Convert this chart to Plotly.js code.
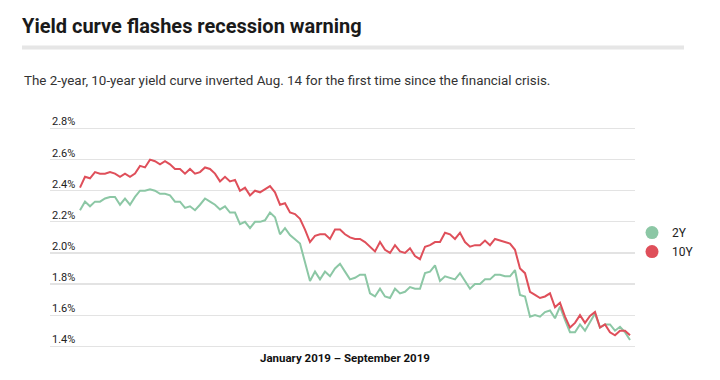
<!DOCTYPE html>
<html>
<head>
<meta charset="utf-8">
<script src="https://cdn.plot.ly/plotly-3.0.1.min.js"></script>
<style>html,body{margin:0;padding:0;background:#fff;}#chart{width:720px;height:380px;}</style>
</head>
<body>
<div id="chart"></div>
<script>
// Trading-day index (late March 2019 → early September 2019)
const dayIndex = Array.from({length: 111}, (_, i) => i);

// 2-year Treasury yield, %
const y2 = [
  2.275, 2.33, 2.30, 2.33, 2.33, 2.35, 2.36, 2.36, 2.31, 2.35,
  2.31, 2.36, 2.40, 2.40, 2.41, 2.40, 2.38, 2.38, 2.37, 2.33,
  2.33, 2.29, 2.30, 2.275, 2.31, 2.35, 2.33, 2.31, 2.28, 2.30,
  2.26, 2.26, 2.185, 2.20, 2.16, 2.20, 2.20, 2.21, 2.26, 2.23,
  2.12, 2.16, 2.115, 2.09, 2.06, 1.94, 1.82, 1.88, 1.83, 1.88,
  1.85, 1.90, 1.93, 1.88, 1.83, 1.84, 1.86, 1.86, 1.74, 1.72,
  1.77, 1.72, 1.71, 1.77, 1.74, 1.75, 1.78, 1.77, 1.77, 1.87,
  1.88, 1.92, 1.82, 1.85, 1.84, 1.83, 1.87, 1.82, 1.77, 1.80,
  1.80, 1.83, 1.83, 1.86, 1.86, 1.85, 1.85, 1.89, 1.73, 1.72,
  1.59, 1.60, 1.59, 1.62, 1.63, 1.58, 1.655, 1.57, 1.49, 1.49,
  1.54, 1.50, 1.56, 1.61, 1.52, 1.54, 1.54, 1.50, 1.525, 1.49,
  1.44
];

// 10-year Treasury yield, %
const y10 = [
  2.42, 2.49, 2.48, 2.52, 2.51, 2.51, 2.52, 2.51, 2.49, 2.51,
  2.49, 2.51, 2.56, 2.55, 2.60, 2.59, 2.57, 2.59, 2.57, 2.54,
  2.54, 2.51, 2.54, 2.51, 2.52, 2.55, 2.54, 2.51, 2.46, 2.49,
  2.46, 2.47, 2.40, 2.42, 2.37, 2.40, 2.39, 2.41, 2.43, 2.39,
  2.31, 2.32, 2.26, 2.25, 2.22, 2.15, 2.07, 2.11, 2.12, 2.12,
  2.09, 2.15, 2.15, 2.12, 2.10, 2.09, 2.09, 2.07, 2.04, 2.01,
  2.07, 2.02, 2.00, 2.05, 2.01, 2.00, 2.03, 1.98, 1.96, 2.04,
  2.05, 2.07, 2.07, 2.13, 2.12, 2.09, 2.13, 2.07, 2.04, 2.05,
  2.05, 2.08, 2.05, 2.09, 2.08, 2.07, 2.06, 2.02, 1.90, 1.87,
  1.75, 1.73, 1.71, 1.72, 1.74, 1.65, 1.68, 1.59, 1.52, 1.55,
  1.60, 1.55, 1.595, 1.62, 1.52, 1.54, 1.49, 1.47, 1.50, 1.50,
  1.47
];

const yTicks = [1.4, 1.6, 1.8, 2.0, 2.2, 2.4, 2.6, 2.8];
const yTickText = ['1.4%', '1.6%', '1.8%', '2.0%', '2.2%', '2.4%', '2.6%', '2.8%'];
const seriesNames = ['2Y', '10Y'];

const GREEN = '#8cc7a5';
const RED = '#df4f5a';
const FONT = 'Roboto, "Noto Sans", sans-serif';

// plot area geometry (pixels)
const TOP = 112.7, BOTTOM = 354.1, LEFT = 50, RIGHT = 635;
const H = BOTTOM - TOP, W = RIGHT - LEFT;
const py = p => (BOTTOM - p) / H;   // pixel row → paper y
const px = p => (p - LEFT) / W;     // pixel col → paper x

const traces = [
  {x: dayIndex, y: y2, mode: 'lines', line: {color: GREEN, width: 2}, showlegend: false, hoverinfo: 'skip'},
  {x: dayIndex, y: y10, mode: 'lines', line: {color: RED, width: 2}, showlegend: false, hoverinfo: 'skip'},
  {x: [null], y: [null], mode: 'markers', name: seriesNames[0], marker: {color: GREEN, size: 13}},
  {x: [null], y: [null], mode: 'markers', name: seriesNames[1], marker: {color: RED, size: 13}}
];

const layout = {
  width: 720, height: 380,
  margin: {l: LEFT, r: 720 - RIGHT, t: TOP, b: 380 - BOTTOM, pad: 0},
  paper_bgcolor: '#fff', plot_bgcolor: '#fff',
  font: {family: FONT, color: '#222'},
  title: {
    text: '<b>Yield curve flashes recession warning</b>',
    x: 22/720, xanchor: 'left', xref: 'container',
    y: 1 - 26/380, yanchor: 'middle', yref: 'container',
    font: {family: FONT, size: 20, color: '#1a1a1a'}
  },
  xaxis: {
    range: [-6, 111], showgrid: false, zeroline: false, showline: false,
    showticklabels: false, ticks: '', fixedrange: true
  },
  yaxis: {
    range: [1.35, 2.90], tickvals: yTicks, ticktext: yTickText,
    ticklabelposition: 'inside', ticklabelshift: -7, ticklabelstandoff: -1,
    ticks: '', showgrid: true, gridcolor: '#e3e3e3', gridwidth: 1.2,
    zeroline: false, showline: false, fixedrange: true,
    tickfont: {family: FONT, size: 11, color: '#222'}
  },
  legend: {
    x: px(632), xanchor: 'left', y: py(242), yanchor: 'middle',
    font: {family: FONT, size: 12, color: '#222'},
    bgcolor: 'rgba(0,0,0,0)', borderwidth: 0, tracegroupgap: 0
  },
  shapes: [{
    type: 'rect', xref: 'paper', yref: 'paper',
    x0: px(22), x1: px(684), y0: py(49), y1: py(45),
    fillcolor: '#e6e6e6', line: {width: 0}, layer: 'above'
  }],
  annotations: [{
    text: 'The 2-year, 10-year yield curve inverted Aug. 14 for the first time since the financial crisis.',
    xref: 'paper', yref: 'paper', x: px(22), xanchor: 'left',
    y: py(80), yanchor: 'middle', showarrow: false,
    font: {family: FONT, size: 13.4, color: '#333'}
  }, {
    text: '<b>January 2019 – September 2019</b>',
    xref: 'paper', yref: 'paper', x: px(345), xanchor: 'center',
    y: py(358), yanchor: 'middle', showarrow: false,
    font: {family: FONT, size: 11.5, color: '#111'}
  }]
};

Plotly.newPlot('chart', traces, layout, {displayModeBar: false, staticPlot: true});
</script>
</body>
</html>
